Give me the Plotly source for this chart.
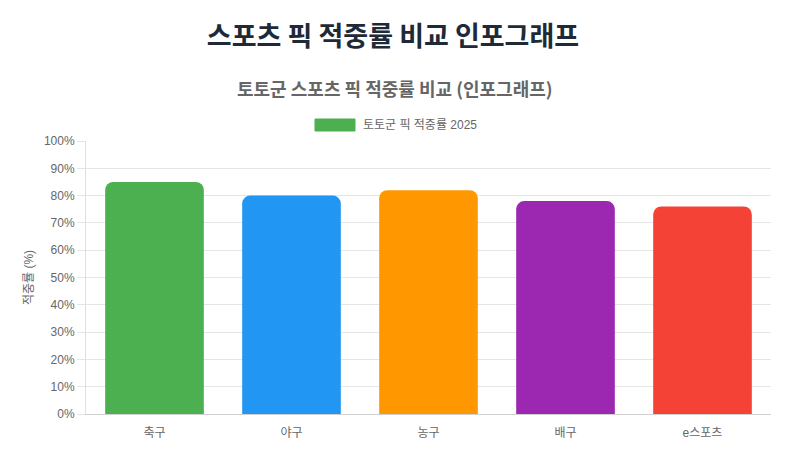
import plotly.graph_objects as go

categories = ["축구", "야구", "농구", "배구", "e스포츠"]
values = [85, 80, 82, 78, 76]
colors = ["#4caf50", "#2196f3", "#ff9800", "#9c27b0", "#f44336"]
series_name = "토토군 픽 적중률 2025"
y_ticks = list(range(0, 101, 10))
y_tick_labels = [f"{v}%" for v in y_ticks]

OFF = 8  # page body margin
W, H = 786 - 2 * OFF, 457 - 2 * OFF
# desired page-pixel positions of plot area
PL, PR, PT, PB = 86, 771, 141, 414
L = PL - OFF
R = W - (PR - OFF)
T = PT - OFF
B = H - (PB - OFF)

plot_w = W - L - R
plot_h = H - T - B


def px_x(px):
    return (px - OFF - L) / plot_w


def px_y(py):
    return (H - B - (py - OFF)) / plot_h


fig = go.Figure()
fig.add_trace(go.Bar(
    x=categories, y=values, name=series_name,
    marker=dict(color=colors, cornerradius=8, line=dict(width=0)),
    showlegend=False,
    hovertemplate="%{x}: %{y}%<extra></extra>",
))

font_main = "Liberation Sans, Arial, Noto Sans CJK KR, sans-serif"

fig.update_layout(
    width=W, height=H,
    margin=dict(l=L, r=R, t=T, b=B),
    paper_bgcolor="white", plot_bgcolor="white",
    bargap=0.28,
    font=dict(family=font_main, size=12, color="#666666"),
    title=dict(
        text="<b>스포츠 픽 적중률 비교 인포그래프</b>",
        x=(393 - OFF) / W, xanchor="center", y=1 - (37 - OFF) / H, yanchor="middle",
        font=dict(family="Noto Sans CJK KR, sans-serif", size=27, color="#1e2a38"),
    ),
    xaxis=dict(
        showgrid=False, showline=True, linecolor="#d0d0d0", linewidth=1,
        ticks="outside", ticklen=8, tickcolor="rgba(0,0,0,0)",
        tickfont=dict(size=12, color="#666666"),
        fixedrange=True,
    ),
    yaxis=dict(
        range=[0, 100], tickvals=y_ticks, ticktext=y_tick_labels,
        showgrid=True, gridcolor="#e5e5e5", gridwidth=1,
        showline=True, linecolor="#e0e0e0", linewidth=1,
        ticks="outside", ticklen=8, tickcolor="#e5e5e5",
        tickfont=dict(size=12, color="#666666"),
        zeroline=False,
        title=dict(text="적중률 (%)", font=dict(size=12, color="#666666"), standoff=7),
    ),
)

# Subtitle
fig.add_annotation(
    text="<b>토토군 스포츠 픽 적중률 비교 (인포그래프)</b>",
    xref="paper", yref="paper", x=px_x(395), y=px_y(88),
    xanchor="center", yanchor="middle", showarrow=False,
    font=dict(family="Noto Sans CJK KR, sans-serif", size=18, color="#666666"),
)

# Legend swatch + label
fig.add_shape(
    type="rect", xref="paper", yref="paper",
    x0=px_x(315), x1=px_x(355), y0=px_y(131), y1=px_y(119),
    fillcolor=colors[0], line=dict(color=colors[0], width=1),
)
fig.add_annotation(
    text=series_name, xref="paper", yref="paper",
    x=px_x(361), y=px_y(125), xanchor="left", yanchor="middle",
    showarrow=False, font=dict(size=12, color="#666666"),
)

fig.write_html("out.html")
